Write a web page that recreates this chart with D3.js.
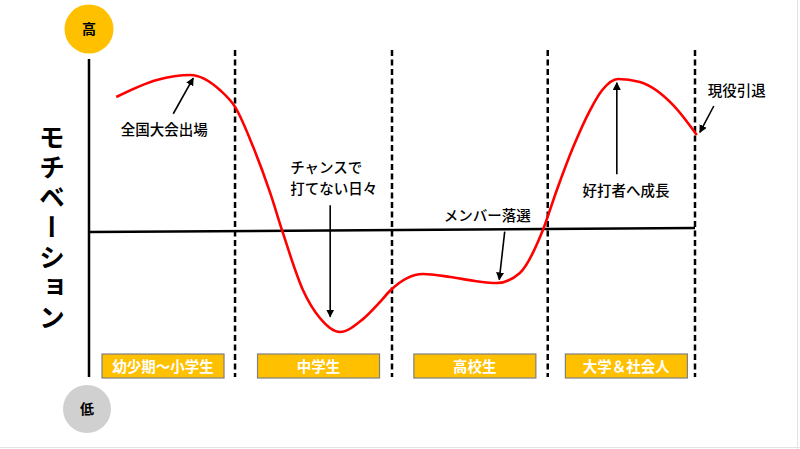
<!DOCTYPE html>
<html><head><meta charset="utf-8">
<script src="https://cdn.jsdelivr.net/npm/d3@7"></script>
<style>
html,body{margin:0;padding:0;background:#fff;}
svg{display:block;font-family:"Noto Sans CJK JP","Noto Sans",sans-serif;}
</style></head>
<body><svg id="c" width="800" height="449"></svg>
<script>
// ---- data ----
const stageNames = ["幼少期〜小学生", "中学生", "高校生", "大学＆社会人"];
const stageBounds = [0, 24.1, 50, 75.7, 100];   // time axis, 0..100
const curveX = [4.5, 11.2, 16.7, 21.6, 24.1, 27.1, 29.9, 32.0, 35.3, 38.1, 41.4, 45.2, 48.0, 49.8, 52.5, 55.1, 59.6, 63.7, 67.3, 71.1, 74.9, 77.2, 79.9, 82.7, 84.7, 87.3, 90.9, 96.4, 100.3];
const curveY = [85.8, 96.8, 100, 90.3, 79.4, 53.5, 23.9, -1.9, -38.7, -56.8, -65.8, -57.5, -46.5, -38.7, -31, -28.4, -30.3, -32.9, -34.2, -27.7, 0, 25.8, 53.5, 77.4, 90.3, 97.4, 95.5, 80.6, 61.3];
const noteTexts = [["全国大会出場"], ["チャンスで", "打てない日々"], ["メンバー落選"], ["好打者へ成長"], ["現役引退"]];
const noteAnchor = ["middle", "start", "middle", "middle", "middle"];
const noteFrom = [[13.9, 75], [39.8, 16], [68.6, -1], [87.1, 36], [103.1, 80]];
const noteTo = [[17.2, 98], [39.8, -56], [67.7, -32], [87.1, 95], [100.8, 63]];
const noteLabelAt = [[12.4, 64.5], [33.2, 40], [65.7, 9], [88.6, 25], [106.9, 89.7]];
const axisLabel = "モチベーション";
const highLabel = "高", lowLabel = "低";

// ---- scales ----
const x = d3.scaleLinear().domain([0, 100]).range([89, 695]);
const y = d3.scaleLinear().domain([-100, 100]).range([385, 75]);
const svg = d3.select("#c");

// frame edges
svg.append("line").attr("x1", 797.5).attr("x2", 797.5).attr("y1", 0).attr("y2", 449).attr("stroke", "#e3e3e3").attr("stroke-width", 1);
svg.append("line").attr("x1", 0).attr("x2", 800).attr("y1", 447.5).attr("y2", 447.5).attr("stroke", "#e3e3e3").attr("stroke-width", 1);

const yTop = 59, yBottom = 377;

// vertical axis
svg.append("line").attr("x1", x(0)).attr("x2", x(0)).attr("y1", yTop).attr("y2", yBottom)
  .attr("stroke", "#000").attr("stroke-width", 2.5);
// zero line
svg.append("line").attr("x1", x(0)).attr("x2", x(100)).attr("y1", y(0) + 2).attr("y2", y(0) - 2)
  .attr("stroke", "#000").attr("stroke-width", 2.5);

// dashed dividers
svg.selectAll("line.div").data(stageBounds.slice(1)).join("line").attr("class", "div")
  .attr("x1", d => x(d)).attr("x2", d => x(d)).attr("y1", 50).attr("y2", yBottom)
  .attr("stroke", "#000").attr("stroke-width", 2.5).attr("stroke-dasharray", "6,3.5");

// stage boxes
const boxW = 122, boxH = 24, boxY = 354;
const stages = stageNames.map((n, i) => ({ name: n, mid: (x(stageBounds[i]) + x(stageBounds[i + 1])) / 2 + (i === 0 ? 1 : 5) }));
const sg = svg.selectAll("g.stage").data(stages).join("g").attr("class", "stage");
sg.append("rect").attr("x", d => d.mid - boxW / 2).attr("y", boxY).attr("width", boxW).attr("height", boxH)
  .attr("fill", "#FFC000").attr("stroke", "#7f7f7f").attr("stroke-width", 1.2);
sg.append("text").attr("x", d => d.mid).attr("y", boxY + boxH / 2 + 5.5).attr("text-anchor", "middle")
  .attr("fill", "#fff").attr("font-size", 14.5).attr("font-weight", "bold").text(d => d.name);

// curve
const pts = curveX.map((d, i) => [d, curveY[i]]);
svg.append("path").datum(pts)
  .attr("d", d3.line().x(d => x(d[0])).y(d => y(d[1])).curve(d3.curveMonotoneX))
  .attr("fill", "none").attr("stroke", "#FF0000").attr("stroke-width", 2.6);

// arrows
const defs = svg.append("defs");
defs.append("marker").attr("id", "ah").attr("viewBox", "0 0 10 10").attr("refX", 9).attr("refY", 5)
  .attr("markerWidth", 5).attr("markerHeight", 5).attr("orient", "auto")
  .append("path").attr("d", "M0,0 L10,5 L0,10 z").attr("fill", "#000");
noteFrom.forEach((f, i) => {
  svg.append("line").attr("x1", x(f[0])).attr("y1", y(f[1])).attr("x2", x(noteTo[i][0])).attr("y2", y(noteTo[i][1]))
    .attr("stroke", "#000").attr("stroke-width", 1.6).attr("marker-end", "url(#ah)");
});
noteTexts.forEach((lines, i) => {
  const t = svg.append("text").attr("text-anchor", noteAnchor[i]).attr("font-size", 14.5).attr("fill", "#000").attr("font-weight", 500);
  lines.forEach((l, j) => {
    t.append("tspan").attr("x", x(noteLabelAt[i][0])).attr("y", y(noteLabelAt[i][1]) + 5 + j * 21).text(l);
  });
});

// high / low circles
svg.append("circle").attr("cx", x(0)).attr("cy", 29).attr("r", 24.5).attr("fill", "#FFC000");
svg.append("text").attr("x", x(0)).attr("y", 34).attr("text-anchor", "middle").attr("font-size", 14).attr("font-weight", "bold").text(highLabel);
svg.append("circle").attr("cx", x(0) - 2).attr("cy", 409).attr("r", 24).attr("fill", "#D0D0D0");
svg.append("text").attr("x", x(0) - 2).attr("y", 414).attr("text-anchor", "middle").attr("font-size", 14).attr("font-weight", "bold").text(lowLabel);

// vertical y-axis label
svg.append("text").attr("x", 52).attr("y", 124)
  .style("writing-mode", "vertical-rl").style("text-orientation", "upright")
  .attr("font-size", 26).attr("font-weight", "bold").attr("letter-spacing", 4).attr("fill", "#000")
  .text(axisLabel);
</script></body></html>
